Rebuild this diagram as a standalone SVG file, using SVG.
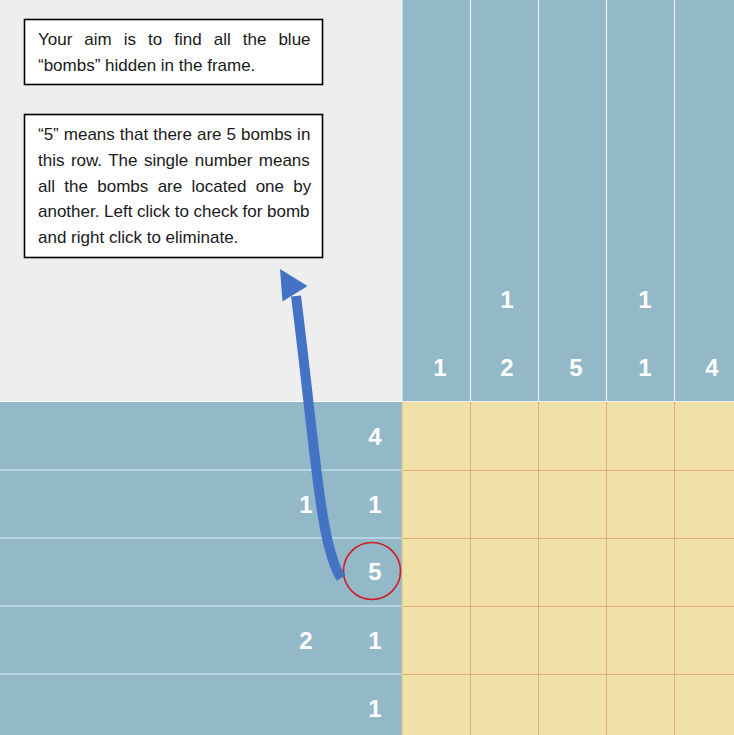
<svg xmlns="http://www.w3.org/2000/svg" width="734" height="735" viewBox="0 0 734 735">
<style>
.note{fill:#ffffff;stroke:#000000;stroke-width:1.6}
.t{font-family:"Liberation Sans",Arial,sans-serif;font-size:17px;fill:#1a1a1a}
.num{font-family:"Liberation Sans",Arial,sans-serif;font-size:24px;font-weight:bold;fill:#ffffff;text-anchor:middle}
.vline{stroke:#e6f2f7;stroke-width:1.2}
.hline{stroke:#c4dfec;stroke-width:1.5}
.gline{stroke:#e4ac7a;stroke-width:1}
</style>
<rect x="0" y="0" width="734" height="735" fill="#eeeeee"/>
<g id="col-clues">
<rect x="402" y="0" width="332" height="401" fill="#93b8c8"/>
<line class="vline" x1="402" y1="0" x2="402" y2="401"/>
<line class="vline" x1="470.5" y1="0" x2="470.5" y2="401"/>
<line class="vline" x1="538.5" y1="0" x2="538.5" y2="401"/>
<line class="vline" x1="606.5" y1="0" x2="606.5" y2="401"/>
<line class="vline" x1="674.5" y1="0" x2="674.5" y2="401"/>
<text class="num" x="507" y="308">1</text>
<text class="num" x="645" y="308">1</text>
<text class="num" x="440" y="376">1</text>
<text class="num" x="507" y="376">2</text>
<text class="num" x="576" y="376">5</text>
<text class="num" x="645" y="376">1</text>
<text class="num" x="712" y="376">4</text>
</g>
<g id="row-clues">
<rect x="0" y="402" width="402" height="333" fill="#93b8c8"/>
<line x1="0" y1="401.5" x2="402" y2="401.5" stroke="#ffffff" stroke-width="1.2"/>
<line class="hline" x1="0" y1="470" x2="402" y2="470"/>
<line class="hline" x1="0" y1="538" x2="402" y2="538"/>
<line class="hline" x1="0" y1="606" x2="402" y2="606"/>
<line class="hline" x1="0" y1="674" x2="402" y2="674"/>
<text class="num" x="375" y="444.5">4</text>
<text class="num" x="306" y="512.5">1</text>
<text class="num" x="375" y="512.5">1</text>
<text class="num" x="375" y="580">5</text>
<text class="num" x="306" y="648.5">2</text>
<text class="num" x="375" y="648.5">1</text>
<text class="num" x="375" y="716.5">1</text>
</g>
<g id="grid">
<rect x="402" y="402" width="332" height="333" fill="#f0e2a6"/>
<line x1="402" y1="402" x2="402" y2="735" stroke="#d9b98a" stroke-width="1"/>
<line class="gline" x1="470.5" y1="402" x2="470.5" y2="735"/>
<line class="gline" x1="538.5" y1="402" x2="538.5" y2="735"/>
<line class="gline" x1="606.5" y1="402" x2="606.5" y2="735"/>
<line class="gline" x1="674.5" y1="402" x2="674.5" y2="735"/>
<line class="gline" x1="402" y1="470.5" x2="734" y2="470.5"/>
<line class="gline" x1="402" y1="538.5" x2="734" y2="538.5"/>
<line class="gline" x1="402" y1="606.5" x2="734" y2="606.5"/>
<line class="gline" x1="402" y1="674.5" x2="734" y2="674.5"/>
</g>
<g id="note-aim">
<rect class="note" x="24.5" y="19.5" width="298" height="65"/>
<text class="t" x="38" y="45" word-spacing="7.3">Your aim is to find all the blue</text>
<text class="t" x="38" y="71">“bombs” hidden in the frame.</text>
</g>
<g id="note-rule">
<rect class="note" x="24.5" y="114.5" width="298" height="143"/>
<text class="t" x="38" y="140" word-spacing="0.3">“5” means that there are 5 bombs in</text>
<text class="t" x="38" y="166" word-spacing="1.7">this row. The single number means</text>
<text class="t" x="38" y="192" word-spacing="4.6">all the bombs are located one by</text>
<text class="t" x="38" y="217" word-spacing="-0.1">another. Left click to check for bomb</text>
<text class="t" x="38" y="243">and right click to eliminate.</text>
</g>
<g id="highlight">
<circle cx="372" cy="571" r="28.5" fill="none" stroke="#d01c24" stroke-width="1.6"/>
</g>
<g id="connectors">
<path d="M 341 578 C 320 545, 316 455, 296 296" fill="none" stroke="#4472c4" stroke-width="10"/>
<polygon points="280,269 307.5,286 282.5,301.5" fill="#4472c4"/>
</g>
</svg>
